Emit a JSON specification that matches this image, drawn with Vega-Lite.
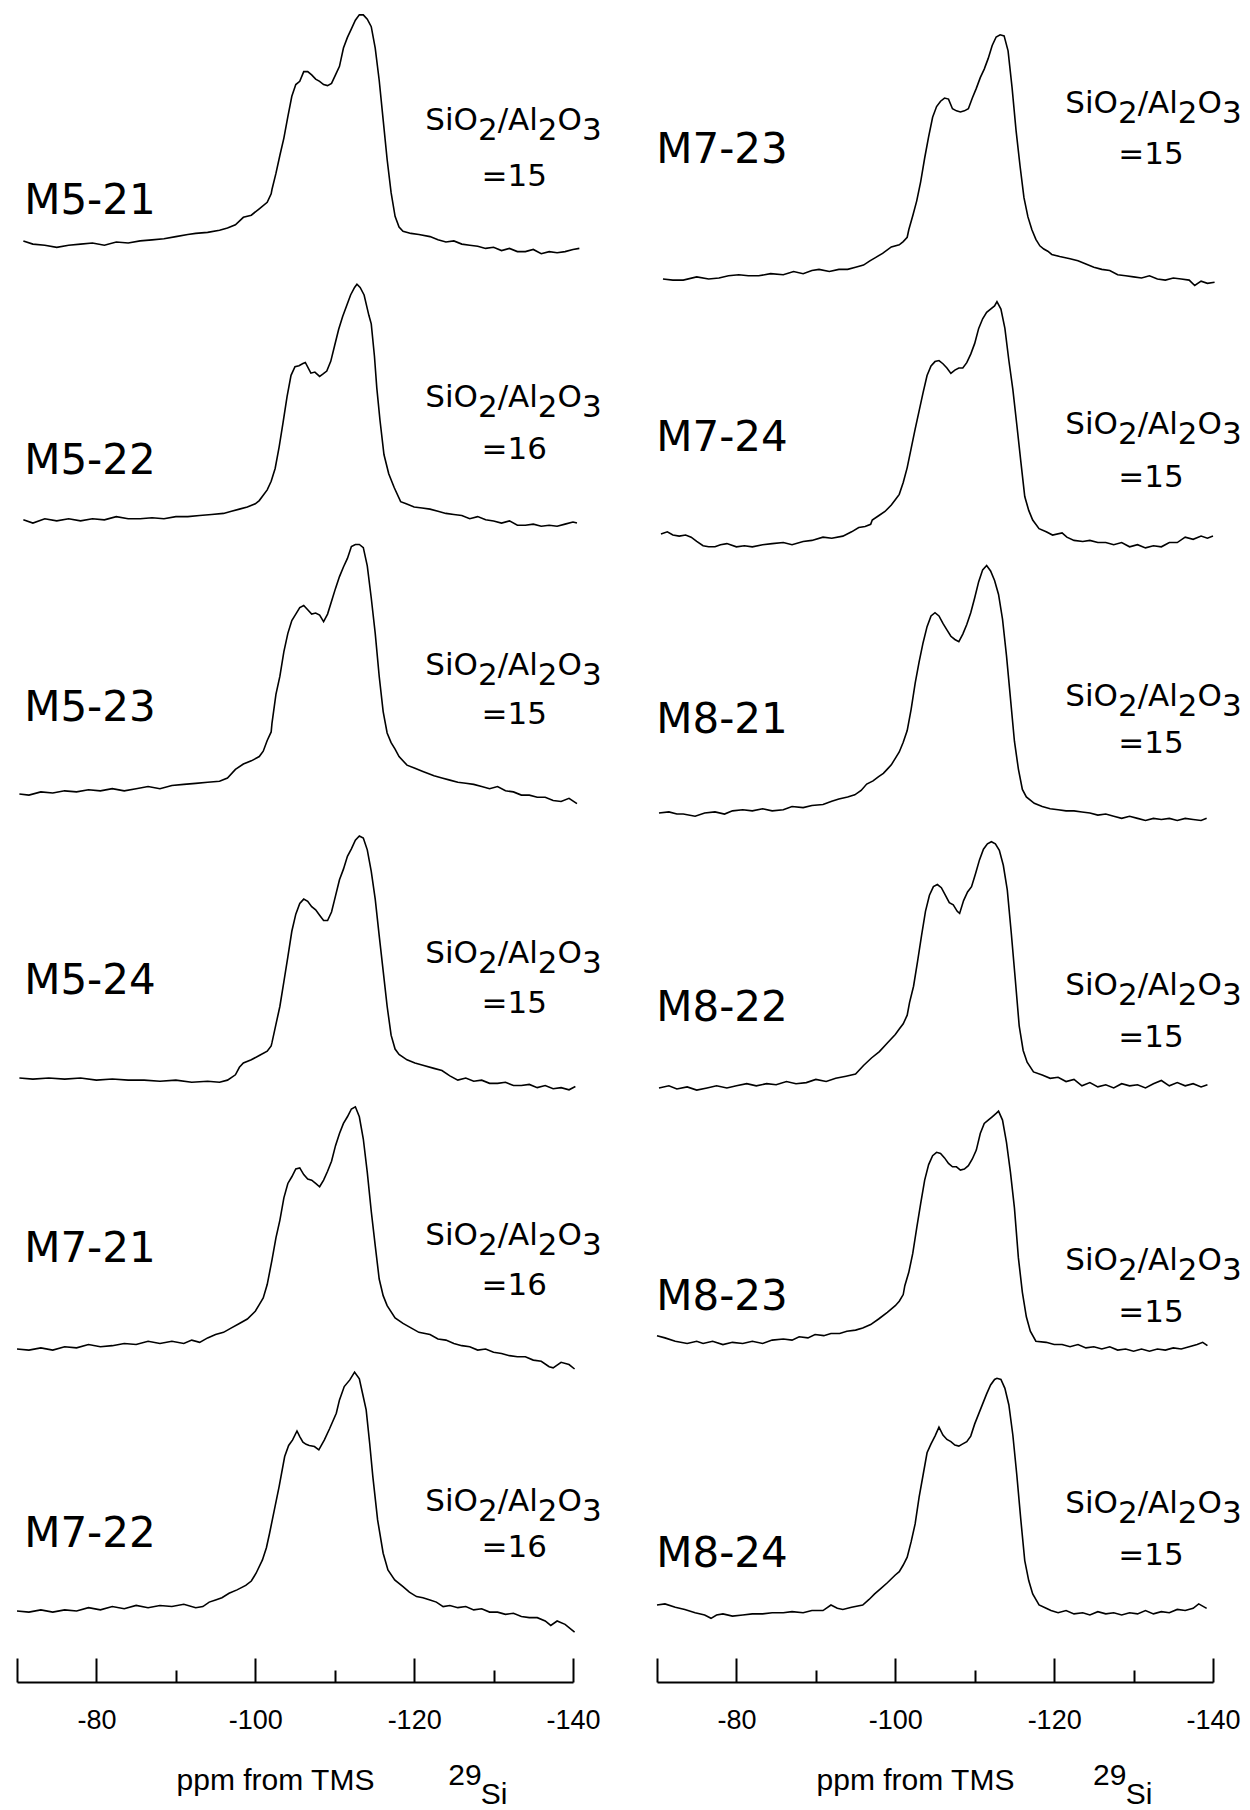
{
"$schema":"https://vega.github.io/schema/vega-lite/v6.json",
"background":"white",
"padding":{"left":13,"top":6,"right":0,"bottom":0},
"bounds":"flush",
"columns":2,
"spacing":{"row":0,"column":84},
"config":{"view":{"stroke":null},"text":{"font":"DejaVu Sans","color":"black"}},
"datasets":{
"lab":[
{"s":"M5-21","r":"=15"},{"s":"M5-22","r":"=16"},{"s":"M5-23","r":"=15"},{"s":"M5-24","r":"=15"},{"s":"M7-21","r":"=16"},{"s":"M7-22","r":"=16"},
{"s":"M7-23","r":"=15"},{"s":"M7-24","r":"=15"},{"s":"M8-21","r":"=15"},{"s":"M8-22","r":"=15"},{"s":"M8-23","r":"=15"},{"s":"M8-24","r":"=15"}],
"iso":[{"a":"29","b":"Si"}],
"spec":[
{"s":"M5-21","p":-70.8,"v":2},{"s":"M5-21","p":-72,"v":-1},{"s":"M5-21","p":-73.5,"v":-2},{"s":"M5-21","p":-75,"v":-4},{"s":"M5-21","p":-76.5,"v":-2},{"s":"M5-21","p":-78,"v":-1},{"s":"M5-21","p":-79.5,"v":0},{"s":"M5-21","p":-81,"v":-2},{"s":"M5-21","p":-82.5,"v":1},{"s":"M5-21","p":-84,"v":0},{"s":"M5-21","p":-85.5,"v":2},{"s":"M5-21","p":-87,"v":3},{"s":"M5-21","p":-88.5,"v":4},{"s":"M5-21","p":-90,"v":6},{"s":"M5-21","p":-91.5,"v":8},{"s":"M5-21","p":-92.5,"v":9},{"s":"M5-21","p":-94,"v":10},{"s":"M5-21","p":-95.5,"v":12},{"s":"M5-21","p":-96.5,"v":14},{"s":"M5-21","p":-97.5,"v":17},{"s":"M5-21","p":-98.5,"v":24},{"s":"M5-21","p":-99.5,"v":26},{"s":"M5-21","p":-100.5,"v":32},{"s":"M5-21","p":-101.5,"v":38},{"s":"M5-21","p":-102,"v":46},{"s":"M5-21","p":-102.1,"v":50},{"s":"M5-21","p":-102.6,"v":65},{"s":"M5-21","p":-103.1,"v":82},{"s":"M5-21","p":-103.6,"v":98},{"s":"M5-21","p":-104.1,"v":118},{"s":"M5-21","p":-104.6,"v":137},{"s":"M5-21","p":-105.1,"v":148},{"s":"M5-21","p":-105.6,"v":151},{"s":"M5-21","p":-106.1,"v":160},{"s":"M5-21","p":-106.6,"v":160},{"s":"M5-21","p":-107.1,"v":157},{"s":"M5-21","p":-107.6,"v":153},{"s":"M5-21","p":-108.1,"v":151},{"s":"M5-21","p":-108.6,"v":148},{"s":"M5-21","p":-109.1,"v":147},{"s":"M5-21","p":-109.6,"v":149},{"s":"M5-21","p":-110.1,"v":157},{"s":"M5-21","p":-110.6,"v":165},{"s":"M5-21","p":-111.1,"v":182},{"s":"M5-21","p":-111.6,"v":192},{"s":"M5-21","p":-112.1,"v":200},{"s":"M5-21","p":-112.6,"v":208},{"s":"M5-21","p":-113.1,"v":213},{"s":"M5-21","p":-113.6,"v":213},{"s":"M5-21","p":-114.1,"v":209},{"s":"M5-21","p":-114.6,"v":202},{"s":"M5-21","p":-115.1,"v":182},{"s":"M5-21","p":-115.6,"v":152},{"s":"M5-21","p":-116.1,"v":115},{"s":"M5-21","p":-116.6,"v":78},{"s":"M5-21","p":-117.1,"v":47},{"s":"M5-21","p":-117.6,"v":25},{"s":"M5-21","p":-118.1,"v":15},{"s":"M5-21","p":-118.6,"v":11},{"s":"M5-21","p":-119.6,"v":9},{"s":"M5-21","p":-120.6,"v":8},{"s":"M5-21","p":-122,"v":6},{"s":"M5-21","p":-123,"v":3},{"s":"M5-21","p":-124,"v":1},{"s":"M5-21","p":-125,"v":2},{"s":"M5-21","p":-126,"v":-1},{"s":"M5-21","p":-127,"v":-2},{"s":"M5-21","p":-128,"v":-3},{"s":"M5-21","p":-129,"v":-5},{"s":"M5-21","p":-130,"v":-4},{"s":"M5-21","p":-131,"v":-7},{"s":"M5-21","p":-132,"v":-5},{"s":"M5-21","p":-133,"v":-8},{"s":"M5-21","p":-134,"v":-8},{"s":"M5-21","p":-135,"v":-6},{"s":"M5-21","p":-136,"v":-10},{"s":"M5-21","p":-137,"v":-8},{"s":"M5-21","p":-138,"v":-9},{"s":"M5-21","p":-139,"v":-8},{"s":"M5-21","p":-140,"v":-6},{"s":"M5-21","p":-140.8,"v":-5},
{"s":"M5-22","p":-70.8,"v":2},{"s":"M5-22","p":-72,"v":-1},{"s":"M5-22","p":-73.5,"v":3},{"s":"M5-22","p":-75,"v":1},{"s":"M5-22","p":-76.5,"v":3},{"s":"M5-22","p":-78,"v":1},{"s":"M5-22","p":-79.5,"v":3},{"s":"M5-22","p":-81,"v":2},{"s":"M5-22","p":-82.5,"v":5},{"s":"M5-22","p":-84,"v":3},{"s":"M5-22","p":-85.5,"v":3},{"s":"M5-22","p":-87,"v":4},{"s":"M5-22","p":-88.5,"v":3},{"s":"M5-22","p":-90,"v":5},{"s":"M5-22","p":-91.5,"v":5},{"s":"M5-22","p":-93,"v":6},{"s":"M5-22","p":-94.5,"v":7},{"s":"M5-22","p":-96,"v":8},{"s":"M5-22","p":-97,"v":10},{"s":"M5-22","p":-98,"v":12},{"s":"M5-22","p":-99,"v":14},{"s":"M5-22","p":-100,"v":17},{"s":"M5-22","p":-100.5,"v":20},{"s":"M5-22","p":-101,"v":25},{"s":"M5-22","p":-101.5,"v":30},{"s":"M5-22","p":-102,"v":38},{"s":"M5-22","p":-102.5,"v":50},{"s":"M5-22","p":-103,"v":70},{"s":"M5-22","p":-103.5,"v":93},{"s":"M5-22","p":-104,"v":117},{"s":"M5-22","p":-104.5,"v":137},{"s":"M5-22","p":-105,"v":145},{"s":"M5-22","p":-105.5,"v":146},{"s":"M5-22","p":-106,"v":148},{"s":"M5-22","p":-106.3,"v":149},{"s":"M5-22","p":-107,"v":139},{"s":"M5-22","p":-107.5,"v":140},{"s":"M5-22","p":-108.1,"v":136},{"s":"M5-22","p":-108.5,"v":138},{"s":"M5-22","p":-109,"v":141},{"s":"M5-22","p":-109.5,"v":150},{"s":"M5-22","p":-110,"v":165},{"s":"M5-22","p":-110.5,"v":180},{"s":"M5-22","p":-111,"v":192},{"s":"M5-22","p":-111.5,"v":202},{"s":"M5-22","p":-112,"v":212},{"s":"M5-22","p":-112.5,"v":219},{"s":"M5-22","p":-112.8,"v":222},{"s":"M5-22","p":-113.2,"v":219},{"s":"M5-22","p":-113.7,"v":212},{"s":"M5-22","p":-114.3,"v":193},{"s":"M5-22","p":-114.6,"v":185},{"s":"M5-22","p":-115,"v":155},{"s":"M5-22","p":-115.3,"v":125},{"s":"M5-22","p":-115.7,"v":95},{"s":"M5-22","p":-116.2,"v":63},{"s":"M5-22","p":-116.8,"v":45},{"s":"M5-22","p":-117.5,"v":32},{"s":"M5-22","p":-118.3,"v":19},{"s":"M5-22","p":-119,"v":17},{"s":"M5-22","p":-120,"v":14},{"s":"M5-22","p":-121,"v":13},{"s":"M5-22","p":-122,"v":12},{"s":"M5-22","p":-123,"v":10},{"s":"M5-22","p":-124,"v":8},{"s":"M5-22","p":-125,"v":7},{"s":"M5-22","p":-126,"v":6},{"s":"M5-22","p":-127,"v":3},{"s":"M5-22","p":-128,"v":5},{"s":"M5-22","p":-129,"v":2},{"s":"M5-22","p":-130,"v":1},{"s":"M5-22","p":-131,"v":-1},{"s":"M5-22","p":-132,"v":1},{"s":"M5-22","p":-133,"v":-3},{"s":"M5-22","p":-134,"v":-3},{"s":"M5-22","p":-135,"v":-2},{"s":"M5-22","p":-136,"v":-4},{"s":"M5-22","p":-137,"v":-3},{"s":"M5-22","p":-138,"v":-4},{"s":"M5-22","p":-139,"v":-2},{"s":"M5-22","p":-140,"v":0},{"s":"M5-22","p":-140.5,"v":-1},
{"s":"M5-23","p":-70.3,"v":0},{"s":"M5-23","p":-71.5,"v":-1},{"s":"M5-23","p":-73,"v":2},{"s":"M5-23","p":-74.5,"v":1},{"s":"M5-23","p":-76,"v":3},{"s":"M5-23","p":-77.5,"v":2},{"s":"M5-23","p":-79,"v":4},{"s":"M5-23","p":-80.5,"v":3},{"s":"M5-23","p":-82,"v":5},{"s":"M5-23","p":-83.5,"v":3},{"s":"M5-23","p":-85,"v":5},{"s":"M5-23","p":-86.5,"v":7},{"s":"M5-23","p":-88,"v":5},{"s":"M5-23","p":-89.5,"v":8},{"s":"M5-23","p":-91,"v":9},{"s":"M5-23","p":-92.5,"v":10},{"s":"M5-23","p":-94,"v":11},{"s":"M5-23","p":-95.5,"v":12},{"s":"M5-23","p":-96.5,"v":15},{"s":"M5-23","p":-97.5,"v":23},{"s":"M5-23","p":-98.5,"v":28},{"s":"M5-23","p":-99.5,"v":31},{"s":"M5-23","p":-100.5,"v":35},{"s":"M5-23","p":-101,"v":40},{"s":"M5-23","p":-101.5,"v":50},{"s":"M5-23","p":-102,"v":58},{"s":"M5-23","p":-102.1,"v":66},{"s":"M5-23","p":-102.6,"v":93},{"s":"M5-23","p":-103.1,"v":110},{"s":"M5-23","p":-103.6,"v":133},{"s":"M5-23","p":-104.1,"v":150},{"s":"M5-23","p":-104.6,"v":162},{"s":"M5-23","p":-105.1,"v":168},{"s":"M5-23","p":-105.6,"v":174},{"s":"M5-23","p":-106.1,"v":176},{"s":"M5-23","p":-106.6,"v":172},{"s":"M5-23","p":-107.1,"v":168},{"s":"M5-23","p":-107.6,"v":169},{"s":"M5-23","p":-108.1,"v":167},{"s":"M5-23","p":-108.6,"v":161},{"s":"M5-23","p":-109.1,"v":168},{"s":"M5-23","p":-109.6,"v":180},{"s":"M5-23","p":-110.1,"v":192},{"s":"M5-23","p":-110.6,"v":203},{"s":"M5-23","p":-111.1,"v":212},{"s":"M5-23","p":-111.6,"v":220},{"s":"M5-23","p":-112.1,"v":231},{"s":"M5-23","p":-112.6,"v":233},{"s":"M5-23","p":-113.1,"v":233},{"s":"M5-23","p":-113.6,"v":230},{"s":"M5-23","p":-114.1,"v":213},{"s":"M5-23","p":-114.6,"v":183},{"s":"M5-23","p":-115.1,"v":150},{"s":"M5-23","p":-115.6,"v":110},{"s":"M5-23","p":-116.1,"v":77},{"s":"M5-23","p":-116.6,"v":57},{"s":"M5-23","p":-117.1,"v":48},{"s":"M5-23","p":-117.6,"v":42},{"s":"M5-23","p":-118.1,"v":35},{"s":"M5-23","p":-119.1,"v":27},{"s":"M5-23","p":-120.1,"v":24},{"s":"M5-23","p":-121.1,"v":21},{"s":"M5-23","p":-122.5,"v":17},{"s":"M5-23","p":-123.5,"v":15},{"s":"M5-23","p":-124.5,"v":13},{"s":"M5-23","p":-125.5,"v":11},{"s":"M5-23","p":-126.5,"v":10},{"s":"M5-23","p":-127.5,"v":9},{"s":"M5-23","p":-128.5,"v":7},{"s":"M5-23","p":-129.5,"v":5},{"s":"M5-23","p":-130.5,"v":7},{"s":"M5-23","p":-131.5,"v":3},{"s":"M5-23","p":-132.5,"v":2},{"s":"M5-23","p":-133.5,"v":-1},{"s":"M5-23","p":-134.5,"v":-1},{"s":"M5-23","p":-135.5,"v":-3},{"s":"M5-23","p":-136.5,"v":-3},{"s":"M5-23","p":-137.5,"v":-6},{"s":"M5-23","p":-138.5,"v":-7},{"s":"M5-23","p":-139.5,"v":-4},{"s":"M5-23","p":-140.5,"v":-9},
{"s":"M5-24","p":-70.3,"v":0},{"s":"M5-24","p":-72,"v":-1},{"s":"M5-24","p":-74,"v":0},{"s":"M5-24","p":-76,"v":-1},{"s":"M5-24","p":-78,"v":0},{"s":"M5-24","p":-80,"v":-2},{"s":"M5-24","p":-82,"v":-1},{"s":"M5-24","p":-84,"v":-2},{"s":"M5-24","p":-86,"v":-2},{"s":"M5-24","p":-88,"v":-3},{"s":"M5-24","p":-90,"v":-2},{"s":"M5-24","p":-92,"v":-4},{"s":"M5-24","p":-94,"v":-3},{"s":"M5-24","p":-95.5,"v":-4},{"s":"M5-24","p":-96.5,"v":-2},{"s":"M5-24","p":-97.5,"v":3},{"s":"M5-24","p":-98,"v":10},{"s":"M5-24","p":-98.5,"v":14},{"s":"M5-24","p":-99.5,"v":17},{"s":"M5-24","p":-100.5,"v":21},{"s":"M5-24","p":-101.5,"v":25},{"s":"M5-24","p":-102,"v":30},{"s":"M5-24","p":-102.1,"v":33},{"s":"M5-24","p":-102.6,"v":50},{"s":"M5-24","p":-103.1,"v":67},{"s":"M5-24","p":-103.6,"v":90},{"s":"M5-24","p":-104.1,"v":113},{"s":"M5-24","p":-104.6,"v":137},{"s":"M5-24","p":-105.1,"v":153},{"s":"M5-24","p":-105.6,"v":163},{"s":"M5-24","p":-106.1,"v":167},{"s":"M5-24","p":-106.6,"v":165},{"s":"M5-24","p":-107.1,"v":160},{"s":"M5-24","p":-107.6,"v":157},{"s":"M5-24","p":-108.1,"v":152},{"s":"M5-24","p":-108.6,"v":147},{"s":"M5-24","p":-109.1,"v":147},{"s":"M5-24","p":-109.6,"v":155},{"s":"M5-24","p":-110.1,"v":170},{"s":"M5-24","p":-110.6,"v":185},{"s":"M5-24","p":-111.1,"v":195},{"s":"M5-24","p":-111.6,"v":207},{"s":"M5-24","p":-112.1,"v":214},{"s":"M5-24","p":-112.6,"v":222},{"s":"M5-24","p":-113.1,"v":226},{"s":"M5-24","p":-113.6,"v":224},{"s":"M5-24","p":-114.1,"v":213},{"s":"M5-24","p":-114.6,"v":193},{"s":"M5-24","p":-115.1,"v":167},{"s":"M5-24","p":-115.6,"v":133},{"s":"M5-24","p":-116.1,"v":100},{"s":"M5-24","p":-116.6,"v":67},{"s":"M5-24","p":-117.1,"v":40},{"s":"M5-24","p":-117.6,"v":27},{"s":"M5-24","p":-118.1,"v":22},{"s":"M5-24","p":-119.1,"v":17},{"s":"M5-24","p":-120.1,"v":14},{"s":"M5-24","p":-121.1,"v":12},{"s":"M5-24","p":-122.5,"v":9},{"s":"M5-24","p":-123.5,"v":7},{"s":"M5-24","p":-124.5,"v":2},{"s":"M5-24","p":-125.5,"v":-2},{"s":"M5-24","p":-126.5,"v":0},{"s":"M5-24","p":-127.5,"v":-3},{"s":"M5-24","p":-128.5,"v":-2},{"s":"M5-24","p":-129.5,"v":-5},{"s":"M5-24","p":-130.5,"v":-5},{"s":"M5-24","p":-131.5,"v":-4},{"s":"M5-24","p":-132.5,"v":-7},{"s":"M5-24","p":-133.5,"v":-7},{"s":"M5-24","p":-134.5,"v":-6},{"s":"M5-24","p":-135.5,"v":-9},{"s":"M5-24","p":-136.5,"v":-7},{"s":"M5-24","p":-137.5,"v":-10},{"s":"M5-24","p":-138.5,"v":-9},{"s":"M5-24","p":-139.5,"v":-11},{"s":"M5-24","p":-140.3,"v":-8},
{"s":"M7-21","p":-70,"v":0},{"s":"M7-21","p":-71.5,"v":-1},{"s":"M7-21","p":-73,"v":1},{"s":"M7-21","p":-74.5,"v":-1},{"s":"M7-21","p":-76,"v":2},{"s":"M7-21","p":-77.5,"v":1},{"s":"M7-21","p":-79,"v":4},{"s":"M7-21","p":-80.5,"v":2},{"s":"M7-21","p":-82,"v":3},{"s":"M7-21","p":-83.5,"v":5},{"s":"M7-21","p":-85,"v":4},{"s":"M7-21","p":-86.5,"v":7},{"s":"M7-21","p":-88,"v":5},{"s":"M7-21","p":-89.5,"v":7},{"s":"M7-21","p":-91,"v":5},{"s":"M7-21","p":-92,"v":8},{"s":"M7-21","p":-93,"v":6},{"s":"M7-21","p":-94,"v":10},{"s":"M7-21","p":-95,"v":13},{"s":"M7-21","p":-96,"v":15},{"s":"M7-21","p":-97,"v":19},{"s":"M7-21","p":-98,"v":23},{"s":"M7-21","p":-99,"v":27},{"s":"M7-21","p":-100,"v":34},{"s":"M7-21","p":-100.5,"v":40},{"s":"M7-21","p":-101,"v":46},{"s":"M7-21","p":-101.5,"v":58},{"s":"M7-21","p":-102.1,"v":80},{"s":"M7-21","p":-102.6,"v":100},{"s":"M7-21","p":-103.1,"v":116},{"s":"M7-21","p":-103.6,"v":136},{"s":"M7-21","p":-104.1,"v":149},{"s":"M7-21","p":-104.6,"v":155},{"s":"M7-21","p":-105.1,"v":162},{"s":"M7-21","p":-105.6,"v":163},{"s":"M7-21","p":-106.1,"v":157},{"s":"M7-21","p":-106.6,"v":153},{"s":"M7-21","p":-107.1,"v":152},{"s":"M7-21","p":-107.6,"v":149},{"s":"M7-21","p":-108.1,"v":146},{"s":"M7-21","p":-108.6,"v":152},{"s":"M7-21","p":-109.1,"v":160},{"s":"M7-21","p":-109.6,"v":169},{"s":"M7-21","p":-110.1,"v":183},{"s":"M7-21","p":-110.6,"v":194},{"s":"M7-21","p":-111.1,"v":203},{"s":"M7-21","p":-111.6,"v":209},{"s":"M7-21","p":-112.1,"v":216},{"s":"M7-21","p":-112.6,"v":218},{"s":"M7-21","p":-113.1,"v":209},{"s":"M7-21","p":-113.6,"v":189},{"s":"M7-21","p":-114.1,"v":159},{"s":"M7-21","p":-114.6,"v":124},{"s":"M7-21","p":-115.1,"v":93},{"s":"M7-21","p":-115.6,"v":63},{"s":"M7-21","p":-116.1,"v":48},{"s":"M7-21","p":-116.6,"v":39},{"s":"M7-21","p":-117.6,"v":28},{"s":"M7-21","p":-118.6,"v":23},{"s":"M7-21","p":-119.6,"v":19},{"s":"M7-21","p":-120.6,"v":15},{"s":"M7-21","p":-122,"v":13},{"s":"M7-21","p":-123,"v":9},{"s":"M7-21","p":-124,"v":8},{"s":"M7-21","p":-125,"v":5},{"s":"M7-21","p":-126,"v":3},{"s":"M7-21","p":-127,"v":2},{"s":"M7-21","p":-128,"v":-1},{"s":"M7-21","p":-129,"v":0},{"s":"M7-21","p":-130,"v":-3},{"s":"M7-21","p":-131,"v":-4},{"s":"M7-21","p":-132,"v":-6},{"s":"M7-21","p":-133,"v":-7},{"s":"M7-21","p":-134,"v":-7},{"s":"M7-21","p":-135,"v":-10},{"s":"M7-21","p":-136,"v":-11},{"s":"M7-21","p":-137,"v":-16},{"s":"M7-21","p":-137.5,"v":-17},{"s":"M7-21","p":-138.5,"v":-12},{"s":"M7-21","p":-139.5,"v":-14},{"s":"M7-21","p":-140.2,"v":-18},
{"s":"M7-22","p":-70,"v":0},{"s":"M7-22","p":-71.5,"v":-1},{"s":"M7-22","p":-73,"v":1},{"s":"M7-22","p":-74.5,"v":-1},{"s":"M7-22","p":-76,"v":1},{"s":"M7-22","p":-77.5,"v":0},{"s":"M7-22","p":-79,"v":3},{"s":"M7-22","p":-80.5,"v":1},{"s":"M7-22","p":-82,"v":4},{"s":"M7-22","p":-83.5,"v":2},{"s":"M7-22","p":-85,"v":5},{"s":"M7-22","p":-86.5,"v":3},{"s":"M7-22","p":-88,"v":5},{"s":"M7-22","p":-89.5,"v":4},{"s":"M7-22","p":-91,"v":6},{"s":"M7-22","p":-92.5,"v":3},{"s":"M7-22","p":-93.4,"v":4},{"s":"M7-22","p":-94.2,"v":8},{"s":"M7-22","p":-95,"v":10},{"s":"M7-22","p":-95.8,"v":12},{"s":"M7-22","p":-96.7,"v":16},{"s":"M7-22","p":-97.7,"v":19},{"s":"M7-22","p":-98.8,"v":23},{"s":"M7-22","p":-99.5,"v":27},{"s":"M7-22","p":-100.1,"v":34},{"s":"M7-22","p":-100.9,"v":46},{"s":"M7-22","p":-101.4,"v":57},{"s":"M7-22","p":-101.8,"v":70},{"s":"M7-22","p":-102.4,"v":91},{"s":"M7-22","p":-103,"v":112},{"s":"M7-22","p":-103.7,"v":139},{"s":"M7-22","p":-104.2,"v":149},{"s":"M7-22","p":-104.7,"v":154},{"s":"M7-22","p":-105.25,"v":162},{"s":"M7-22","p":-105.6,"v":157},{"s":"M7-22","p":-106,"v":152},{"s":"M7-22","p":-106.4,"v":150},{"s":"M7-22","p":-106.8,"v":149},{"s":"M7-22","p":-107.45,"v":148},{"s":"M7-22","p":-108,"v":145},{"s":"M7-22","p":-108.7,"v":154},{"s":"M7-22","p":-109.35,"v":164},{"s":"M7-22","p":-110.2,"v":178},{"s":"M7-22","p":-110.6,"v":190},{"s":"M7-22","p":-111.2,"v":202},{"s":"M7-22","p":-111.9,"v":208},{"s":"M7-22","p":-112.5,"v":215},{"s":"M7-22","p":-113.1,"v":209},{"s":"M7-22","p":-113.5,"v":196},{"s":"M7-22","p":-113.96,"v":181},{"s":"M7-22","p":-114.4,"v":151},{"s":"M7-22","p":-114.8,"v":121},{"s":"M7-22","p":-115.4,"v":82},{"s":"M7-22","p":-116.1,"v":52},{"s":"M7-22","p":-116.7,"v":37},{"s":"M7-22","p":-117.55,"v":28},{"s":"M7-22","p":-118.6,"v":22},{"s":"M7-22","p":-119.4,"v":17},{"s":"M7-22","p":-120.3,"v":13},{"s":"M7-22","p":-121.1,"v":12},{"s":"M7-22","p":-122,"v":10},{"s":"M7-22","p":-122.8,"v":8},{"s":"M7-22","p":-123.65,"v":4},{"s":"M7-22","p":-124.5,"v":5},{"s":"M7-22","p":-125.5,"v":3},{"s":"M7-22","p":-126.5,"v":4},{"s":"M7-22","p":-127.5,"v":1},{"s":"M7-22","p":-128.5,"v":2},{"s":"M7-22","p":-129.5,"v":-1},{"s":"M7-22","p":-130.5,"v":-1},{"s":"M7-22","p":-131.5,"v":-3},{"s":"M7-22","p":-132.5,"v":-2},{"s":"M7-22","p":-133.5,"v":-5},{"s":"M7-22","p":-134.5,"v":-6},{"s":"M7-22","p":-135.5,"v":-6},{"s":"M7-22","p":-136.5,"v":-9},{"s":"M7-22","p":-137.2,"v":-13},{"s":"M7-22","p":-138,"v":-9},{"s":"M7-22","p":-139,"v":-12},{"s":"M7-22","p":-140.2,"v":-19},
{"s":"M7-23","p":-70.75,"v":0},{"s":"M7-23","p":-72,"v":-1},{"s":"M7-23","p":-73.3,"v":-1},{"s":"M7-23","p":-75,"v":2},{"s":"M7-23","p":-76.5,"v":0},{"s":"M7-23","p":-77.8,"v":1},{"s":"M7-23","p":-79,"v":3},{"s":"M7-23","p":-80.3,"v":4},{"s":"M7-23","p":-81.5,"v":3},{"s":"M7-23","p":-82.8,"v":3},{"s":"M7-23","p":-84.3,"v":5},{"s":"M7-23","p":-85.9,"v":4},{"s":"M7-23","p":-87.2,"v":7},{"s":"M7-23","p":-88.4,"v":5},{"s":"M7-23","p":-89.5,"v":8},{"s":"M7-23","p":-90.4,"v":9},{"s":"M7-23","p":-91.7,"v":7},{"s":"M7-23","p":-92.9,"v":9},{"s":"M7-23","p":-94,"v":9},{"s":"M7-23","p":-95,"v":11},{"s":"M7-23","p":-96,"v":13},{"s":"M7-23","p":-96.8,"v":17},{"s":"M7-23","p":-97.5,"v":20},{"s":"M7-23","p":-98.4,"v":24},{"s":"M7-23","p":-99.5,"v":30},{"s":"M7-23","p":-100.5,"v":32},{"s":"M7-23","p":-101,"v":35},{"s":"M7-23","p":-101.5,"v":39},{"s":"M7-23","p":-101.7,"v":46},{"s":"M7-23","p":-102.2,"v":59},{"s":"M7-23","p":-102.7,"v":73},{"s":"M7-23","p":-103.2,"v":91},{"s":"M7-23","p":-103.7,"v":113},{"s":"M7-23","p":-104.2,"v":133},{"s":"M7-23","p":-104.7,"v":151},{"s":"M7-23","p":-105.2,"v":161},{"s":"M7-23","p":-105.7,"v":166},{"s":"M7-23","p":-106.2,"v":169},{"s":"M7-23","p":-106.7,"v":168},{"s":"M7-23","p":-107.2,"v":159},{"s":"M7-23","p":-107.7,"v":157},{"s":"M7-23","p":-108.2,"v":156},{"s":"M7-23","p":-108.7,"v":157},{"s":"M7-23","p":-109.2,"v":159},{"s":"M7-23","p":-109.7,"v":169},{"s":"M7-23","p":-110.2,"v":178},{"s":"M7-23","p":-110.7,"v":188},{"s":"M7-23","p":-111.2,"v":196},{"s":"M7-23","p":-111.7,"v":206},{"s":"M7-23","p":-112.2,"v":218},{"s":"M7-23","p":-112.7,"v":226},{"s":"M7-23","p":-113.2,"v":228},{"s":"M7-23","p":-113.7,"v":227},{"s":"M7-23","p":-114.2,"v":213},{"s":"M7-23","p":-114.7,"v":179},{"s":"M7-23","p":-115.2,"v":139},{"s":"M7-23","p":-115.7,"v":106},{"s":"M7-23","p":-116.2,"v":76},{"s":"M7-23","p":-116.7,"v":58},{"s":"M7-23","p":-117.2,"v":46},{"s":"M7-23","p":-117.7,"v":37},{"s":"M7-23","p":-118.2,"v":31},{"s":"M7-23","p":-118.7,"v":28},{"s":"M7-23","p":-119.2,"v":26},{"s":"M7-23","p":-119.7,"v":23},{"s":"M7-23","p":-120.7,"v":21},{"s":"M7-23","p":-122,"v":19},{"s":"M7-23","p":-123,"v":17},{"s":"M7-23","p":-124,"v":14},{"s":"M7-23","p":-125,"v":11},{"s":"M7-23","p":-126,"v":9},{"s":"M7-23","p":-127,"v":8},{"s":"M7-23","p":-128,"v":4},{"s":"M7-23","p":-129,"v":3},{"s":"M7-23","p":-130,"v":2},{"s":"M7-23","p":-131,"v":1},{"s":"M7-23","p":-132,"v":3},{"s":"M7-23","p":-133,"v":0},{"s":"M7-23","p":-134,"v":-1},{"s":"M7-23","p":-135,"v":1},{"s":"M7-23","p":-136,"v":0},{"s":"M7-23","p":-137,"v":-1},{"s":"M7-23","p":-137.7,"v":-6},{"s":"M7-23","p":-138.5,"v":-2},{"s":"M7-23","p":-139.3,"v":-4},{"s":"M7-23","p":-140.2,"v":-3},
{"s":"M7-24","p":-70.5,"v":0},{"s":"M7-24","p":-71.3,"v":2},{"s":"M7-24","p":-72,"v":-1},{"s":"M7-24","p":-72.8,"v":-2},{"s":"M7-24","p":-73.6,"v":-1},{"s":"M7-24","p":-74.3,"v":-3},{"s":"M7-24","p":-75,"v":-7},{"s":"M7-24","p":-75.8,"v":-11},{"s":"M7-24","p":-76.5,"v":-12},{"s":"M7-24","p":-77.3,"v":-12},{"s":"M7-24","p":-78,"v":-10},{"s":"M7-24","p":-78.8,"v":-9},{"s":"M7-24","p":-80,"v":-12},{"s":"M7-24","p":-81,"v":-11},{"s":"M7-24","p":-82,"v":-12},{"s":"M7-24","p":-83.3,"v":-10},{"s":"M7-24","p":-84.5,"v":-9},{"s":"M7-24","p":-85.9,"v":-8},{"s":"M7-24","p":-87,"v":-10},{"s":"M7-24","p":-88.4,"v":-7},{"s":"M7-24","p":-89.5,"v":-6},{"s":"M7-24","p":-90.9,"v":-3},{"s":"M7-24","p":-92,"v":-4},{"s":"M7-24","p":-93.4,"v":-2},{"s":"M7-24","p":-94.5,"v":2},{"s":"M7-24","p":-95.4,"v":6},{"s":"M7-24","p":-96.2,"v":7},{"s":"M7-24","p":-96.9,"v":9},{"s":"M7-24","p":-97.1,"v":13},{"s":"M7-24","p":-97.9,"v":17},{"s":"M7-24","p":-98.7,"v":21},{"s":"M7-24","p":-99.5,"v":27},{"s":"M7-24","p":-100,"v":32},{"s":"M7-24","p":-100.5,"v":37},{"s":"M7-24","p":-101,"v":48},{"s":"M7-24","p":-101.5,"v":62},{"s":"M7-24","p":-102,"v":80},{"s":"M7-24","p":-102.5,"v":98},{"s":"M7-24","p":-103,"v":115},{"s":"M7-24","p":-103.5,"v":132},{"s":"M7-24","p":-104,"v":148},{"s":"M7-24","p":-104.5,"v":157},{"s":"M7-24","p":-105,"v":161},{"s":"M7-24","p":-105.5,"v":162},{"s":"M7-24","p":-106,"v":159},{"s":"M7-24","p":-106.5,"v":155},{"s":"M7-24","p":-107,"v":150},{"s":"M7-24","p":-107.5,"v":153},{"s":"M7-24","p":-108,"v":155},{"s":"M7-24","p":-108.5,"v":155},{"s":"M7-24","p":-109,"v":160},{"s":"M7-24","p":-109.5,"v":168},{"s":"M7-24","p":-110,"v":178},{"s":"M7-24","p":-110.5,"v":192},{"s":"M7-24","p":-111,"v":201},{"s":"M7-24","p":-111.5,"v":207},{"s":"M7-24","p":-112,"v":210},{"s":"M7-24","p":-112.5,"v":213},{"s":"M7-24","p":-112.8,"v":217},{"s":"M7-24","p":-113.3,"v":210},{"s":"M7-24","p":-113.8,"v":192},{"s":"M7-24","p":-114.3,"v":162},{"s":"M7-24","p":-114.8,"v":135},{"s":"M7-24","p":-115.3,"v":102},{"s":"M7-24","p":-115.8,"v":68},{"s":"M7-24","p":-116.3,"v":35},{"s":"M7-24","p":-116.8,"v":22},{"s":"M7-24","p":-117.3,"v":13},{"s":"M7-24","p":-118.1,"v":5},{"s":"M7-24","p":-119,"v":2},{"s":"M7-24","p":-119.8,"v":-1},{"s":"M7-24","p":-121,"v":1},{"s":"M7-24","p":-121.6,"v":-3},{"s":"M7-24","p":-122.5,"v":-6},{"s":"M7-24","p":-123.6,"v":-7},{"s":"M7-24","p":-124.5,"v":-6},{"s":"M7-24","p":-125.5,"v":-8},{"s":"M7-24","p":-126.5,"v":-8},{"s":"M7-24","p":-127.5,"v":-10},{"s":"M7-24","p":-128.5,"v":-8},{"s":"M7-24","p":-129.5,"v":-12},{"s":"M7-24","p":-130.5,"v":-10},{"s":"M7-24","p":-131.5,"v":-13},{"s":"M7-24","p":-132.5,"v":-11},{"s":"M7-24","p":-133.5,"v":-12},{"s":"M7-24","p":-134.5,"v":-8},{"s":"M7-24","p":-135.5,"v":-8},{"s":"M7-24","p":-136.5,"v":-3},{"s":"M7-24","p":-137.5,"v":-5},{"s":"M7-24","p":-138.5,"v":-2},{"s":"M7-24","p":-139.3,"v":-4},{"s":"M7-24","p":-140,"v":-2},
{"s":"M8-21","p":-70.25,"v":0},{"s":"M8-21","p":-71.5,"v":1},{"s":"M8-21","p":-72.5,"v":-1},{"s":"M8-21","p":-73.3,"v":-1},{"s":"M8-21","p":-74.8,"v":-3},{"s":"M8-21","p":-76,"v":0},{"s":"M8-21","p":-77.3,"v":1},{"s":"M8-21","p":-78.5,"v":-1},{"s":"M8-21","p":-79.5,"v":2},{"s":"M8-21","p":-80.8,"v":3},{"s":"M8-21","p":-82,"v":2},{"s":"M8-21","p":-83.3,"v":4},{"s":"M8-21","p":-84.5,"v":2},{"s":"M8-21","p":-85.9,"v":3},{"s":"M8-21","p":-87,"v":6},{"s":"M8-21","p":-88.4,"v":5},{"s":"M8-21","p":-89.5,"v":7},{"s":"M8-21","p":-90.9,"v":8},{"s":"M8-21","p":-92,"v":11},{"s":"M8-21","p":-92.9,"v":13},{"s":"M8-21","p":-94,"v":15},{"s":"M8-21","p":-94.9,"v":17},{"s":"M8-21","p":-95.7,"v":21},{"s":"M8-21","p":-96.4,"v":27},{"s":"M8-21","p":-97.2,"v":30},{"s":"M8-21","p":-97.9,"v":34},{"s":"M8-21","p":-98.5,"v":37},{"s":"M8-21","p":-99,"v":41},{"s":"M8-21","p":-99.5,"v":45},{"s":"M8-21","p":-100,"v":51},{"s":"M8-21","p":-100.5,"v":57},{"s":"M8-21","p":-101,"v":66},{"s":"M8-21","p":-101.5,"v":77},{"s":"M8-21","p":-102,"v":97},{"s":"M8-21","p":-102.5,"v":121},{"s":"M8-21","p":-103,"v":141},{"s":"M8-21","p":-103.5,"v":159},{"s":"M8-21","p":-104,"v":174},{"s":"M8-21","p":-104.5,"v":184},{"s":"M8-21","p":-105,"v":187},{"s":"M8-21","p":-105.5,"v":184},{"s":"M8-21","p":-106,"v":177},{"s":"M8-21","p":-106.5,"v":171},{"s":"M8-21","p":-107,"v":165},{"s":"M8-21","p":-107.5,"v":162},{"s":"M8-21","p":-108,"v":160},{"s":"M8-21","p":-108.5,"v":167},{"s":"M8-21","p":-109,"v":176},{"s":"M8-21","p":-109.5,"v":187},{"s":"M8-21","p":-110,"v":201},{"s":"M8-21","p":-110.5,"v":216},{"s":"M8-21","p":-111,"v":227},{"s":"M8-21","p":-111.5,"v":231},{"s":"M8-21","p":-112,"v":226},{"s":"M8-21","p":-112.5,"v":217},{"s":"M8-21","p":-113,"v":204},{"s":"M8-21","p":-113.5,"v":181},{"s":"M8-21","p":-114,"v":147},{"s":"M8-21","p":-114.5,"v":107},{"s":"M8-21","p":-115,"v":67},{"s":"M8-21","p":-115.5,"v":41},{"s":"M8-21","p":-116,"v":22},{"s":"M8-21","p":-116.5,"v":15},{"s":"M8-21","p":-117.5,"v":9},{"s":"M8-21","p":-118.5,"v":6},{"s":"M8-21","p":-119.5,"v":4},{"s":"M8-21","p":-120.5,"v":3},{"s":"M8-21","p":-121.5,"v":2},{"s":"M8-21","p":-122.5,"v":2},{"s":"M8-21","p":-123.5,"v":1},{"s":"M8-21","p":-124.5,"v":0},{"s":"M8-21","p":-125.5,"v":-2},{"s":"M8-21","p":-126.5,"v":-1},{"s":"M8-21","p":-127.5,"v":-3},{"s":"M8-21","p":-128.5,"v":-5},{"s":"M8-21","p":-129.5,"v":-3},{"s":"M8-21","p":-130.5,"v":-5},{"s":"M8-21","p":-131.5,"v":-7},{"s":"M8-21","p":-132.5,"v":-5},{"s":"M8-21","p":-133.5,"v":-6},{"s":"M8-21","p":-134.5,"v":-5},{"s":"M8-21","p":-135.5,"v":-7},{"s":"M8-21","p":-136.5,"v":-5},{"s":"M8-21","p":-137.5,"v":-6},{"s":"M8-21","p":-138.5,"v":-7},{"s":"M8-21","p":-139.2,"v":-5},
{"s":"M8-22","p":-70.25,"v":0},{"s":"M8-22","p":-71.5,"v":2},{"s":"M8-22","p":-72.5,"v":-1},{"s":"M8-22","p":-73.8,"v":1},{"s":"M8-22","p":-75,"v":-2},{"s":"M8-22","p":-76.3,"v":0},{"s":"M8-22","p":-77.5,"v":2},{"s":"M8-22","p":-78.8,"v":0},{"s":"M8-22","p":-80,"v":2},{"s":"M8-22","p":-81.3,"v":4},{"s":"M8-22","p":-82.5,"v":2},{"s":"M8-22","p":-83.8,"v":4},{"s":"M8-22","p":-85,"v":3},{"s":"M8-22","p":-86.3,"v":6},{"s":"M8-22","p":-87.5,"v":4},{"s":"M8-22","p":-88.8,"v":5},{"s":"M8-22","p":-90,"v":8},{"s":"M8-22","p":-91.3,"v":6},{"s":"M8-22","p":-92.5,"v":9},{"s":"M8-22","p":-93.8,"v":11},{"s":"M8-22","p":-95,"v":13},{"s":"M8-22","p":-96,"v":21},{"s":"M8-22","p":-97,"v":28},{"s":"M8-22","p":-98,"v":34},{"s":"M8-22","p":-99,"v":42},{"s":"M8-22","p":-100,"v":50},{"s":"M8-22","p":-100.5,"v":55},{"s":"M8-22","p":-101,"v":60},{"s":"M8-22","p":-101.5,"v":68},{"s":"M8-22","p":-101.8,"v":80},{"s":"M8-22","p":-102.3,"v":95},{"s":"M8-22","p":-102.8,"v":118},{"s":"M8-22","p":-103.3,"v":142},{"s":"M8-22","p":-103.8,"v":165},{"s":"M8-22","p":-104.3,"v":180},{"s":"M8-22","p":-104.8,"v":188},{"s":"M8-22","p":-105.3,"v":190},{"s":"M8-22","p":-105.8,"v":187},{"s":"M8-22","p":-106.3,"v":180},{"s":"M8-22","p":-106.8,"v":173},{"s":"M8-22","p":-107.3,"v":171},{"s":"M8-22","p":-107.8,"v":165},{"s":"M8-22","p":-108.1,"v":163},{"s":"M8-22","p":-108.6,"v":175},{"s":"M8-22","p":-109.1,"v":183},{"s":"M8-22","p":-109.6,"v":188},{"s":"M8-22","p":-110.1,"v":200},{"s":"M8-22","p":-110.6,"v":213},{"s":"M8-22","p":-111.1,"v":223},{"s":"M8-22","p":-111.6,"v":228},{"s":"M8-22","p":-112.1,"v":230},{"s":"M8-22","p":-112.6,"v":228},{"s":"M8-22","p":-113.1,"v":222},{"s":"M8-22","p":-113.6,"v":208},{"s":"M8-22","p":-114.1,"v":185},{"s":"M8-22","p":-114.6,"v":145},{"s":"M8-22","p":-115.1,"v":102},{"s":"M8-22","p":-115.6,"v":58},{"s":"M8-22","p":-116.1,"v":35},{"s":"M8-22","p":-116.6,"v":24},{"s":"M8-22","p":-117.4,"v":15},{"s":"M8-22","p":-118.5,"v":12},{"s":"M8-22","p":-119.5,"v":9},{"s":"M8-22","p":-120.5,"v":10},{"s":"M8-22","p":-121.5,"v":6},{"s":"M8-22","p":-122.5,"v":8},{"s":"M8-22","p":-123.5,"v":2},{"s":"M8-22","p":-124.5,"v":5},{"s":"M8-22","p":-125.5,"v":1},{"s":"M8-22","p":-126.5,"v":3},{"s":"M8-22","p":-127.5,"v":0},{"s":"M8-22","p":-128.5,"v":4},{"s":"M8-22","p":-129.5,"v":2},{"s":"M8-22","p":-130.5,"v":3},{"s":"M8-22","p":-131.5,"v":0},{"s":"M8-22","p":-132.5,"v":4},{"s":"M8-22","p":-133.5,"v":7},{"s":"M8-22","p":-134.5,"v":2},{"s":"M8-22","p":-135.5,"v":5},{"s":"M8-22","p":-136.5,"v":2},{"s":"M8-22","p":-137.5,"v":4},{"s":"M8-22","p":-138.5,"v":1},{"s":"M8-22","p":-139.3,"v":3},
{"s":"M8-23","p":-70,"v":3},{"s":"M8-23","p":-71,"v":1},{"s":"M8-23","p":-72.3,"v":-2},{"s":"M8-23","p":-73.8,"v":-4},{"s":"M8-23","p":-75,"v":-2},{"s":"M8-23","p":-75.8,"v":-4},{"s":"M8-23","p":-77,"v":-2},{"s":"M8-23","p":-78.3,"v":-5},{"s":"M8-23","p":-79.5,"v":-3},{"s":"M8-23","p":-80.8,"v":-4},{"s":"M8-23","p":-82,"v":-2},{"s":"M8-23","p":-83.3,"v":-4},{"s":"M8-23","p":-84.5,"v":-1},{"s":"M8-23","p":-85.9,"v":0},{"s":"M8-23","p":-87,"v":-1},{"s":"M8-23","p":-87.9,"v":2},{"s":"M8-23","p":-89,"v":1},{"s":"M8-23","p":-89.9,"v":4},{"s":"M8-23","p":-91,"v":3},{"s":"M8-23","p":-91.9,"v":5},{"s":"M8-23","p":-93,"v":5},{"s":"M8-23","p":-93.9,"v":7},{"s":"M8-23","p":-95,"v":8},{"s":"M8-23","p":-95.9,"v":10},{"s":"M8-23","p":-96.9,"v":13},{"s":"M8-23","p":-97.9,"v":18},{"s":"M8-23","p":-99,"v":24},{"s":"M8-23","p":-100,"v":30},{"s":"M8-23","p":-100.5,"v":34},{"s":"M8-23","p":-101,"v":40},{"s":"M8-23","p":-101.2,"v":48},{"s":"M8-23","p":-101.7,"v":60},{"s":"M8-23","p":-102.2,"v":77},{"s":"M8-23","p":-102.7,"v":100},{"s":"M8-23","p":-103.2,"v":122},{"s":"M8-23","p":-103.7,"v":143},{"s":"M8-23","p":-104.2,"v":157},{"s":"M8-23","p":-104.7,"v":165},{"s":"M8-23","p":-105.2,"v":168},{"s":"M8-23","p":-105.7,"v":167},{"s":"M8-23","p":-106.2,"v":163},{"s":"M8-23","p":-106.7,"v":158},{"s":"M8-23","p":-107.2,"v":155},{"s":"M8-23","p":-107.7,"v":155},{"s":"M8-23","p":-108.2,"v":152},{"s":"M8-23","p":-108.7,"v":153},{"s":"M8-23","p":-109.2,"v":156},{"s":"M8-23","p":-109.7,"v":162},{"s":"M8-23","p":-110.2,"v":170},{"s":"M8-23","p":-110.7,"v":185},{"s":"M8-23","p":-111.2,"v":194},{"s":"M8-23","p":-111.7,"v":197},{"s":"M8-23","p":-112.2,"v":200},{"s":"M8-23","p":-112.7,"v":203},{"s":"M8-23","p":-113,"v":205},{"s":"M8-23","p":-113.5,"v":197},{"s":"M8-23","p":-114,"v":177},{"s":"M8-23","p":-114.5,"v":150},{"s":"M8-23","p":-115,"v":118},{"s":"M8-23","p":-115.5,"v":73},{"s":"M8-23","p":-116,"v":42},{"s":"M8-23","p":-116.5,"v":20},{"s":"M8-23","p":-117,"v":7},{"s":"M8-23","p":-117.7,"v":-2},{"s":"M8-23","p":-119,"v":-3},{"s":"M8-23","p":-120,"v":-5},{"s":"M8-23","p":-121,"v":-5},{"s":"M8-23","p":-122,"v":-7},{"s":"M8-23","p":-123,"v":-5},{"s":"M8-23","p":-124,"v":-8},{"s":"M8-23","p":-125,"v":-7},{"s":"M8-23","p":-126,"v":-9},{"s":"M8-23","p":-127,"v":-7},{"s":"M8-23","p":-128,"v":-10},{"s":"M8-23","p":-129,"v":-9},{"s":"M8-23","p":-130,"v":-11},{"s":"M8-23","p":-131,"v":-9},{"s":"M8-23","p":-132,"v":-11},{"s":"M8-23","p":-133,"v":-9},{"s":"M8-23","p":-134,"v":-10},{"s":"M8-23","p":-135,"v":-8},{"s":"M8-23","p":-136,"v":-9},{"s":"M8-23","p":-137,"v":-7},{"s":"M8-23","p":-138,"v":-5},{"s":"M8-23","p":-138.7,"v":-3},{"s":"M8-23","p":-139.3,"v":-6},
{"s":"M8-24","p":-70,"v":0},{"s":"M8-24","p":-71,"v":1},{"s":"M8-24","p":-72.3,"v":-2},{"s":"M8-24","p":-73.5,"v":-4},{"s":"M8-24","p":-74.8,"v":-7},{"s":"M8-24","p":-76,"v":-9},{"s":"M8-24","p":-76.8,"v":-12},{"s":"M8-24","p":-77.5,"v":-9},{"s":"M8-24","p":-78.3,"v":-8},{"s":"M8-24","p":-79.5,"v":-10},{"s":"M8-24","p":-80.8,"v":-9},{"s":"M8-24","p":-82,"v":-8},{"s":"M8-24","p":-83.3,"v":-8},{"s":"M8-24","p":-84.5,"v":-7},{"s":"M8-24","p":-85.9,"v":-7},{"s":"M8-24","p":-87,"v":-6},{"s":"M8-24","p":-88.4,"v":-7},{"s":"M8-24","p":-89.5,"v":-5},{"s":"M8-24","p":-90.9,"v":-5},{"s":"M8-24","p":-91.9,"v":0},{"s":"M8-24","p":-92.7,"v":-3},{"s":"M8-24","p":-93.4,"v":-4},{"s":"M8-24","p":-94.5,"v":-2},{"s":"M8-24","p":-95.9,"v":0},{"s":"M8-24","p":-96.7,"v":5},{"s":"M8-24","p":-97.4,"v":10},{"s":"M8-24","p":-98.2,"v":15},{"s":"M8-24","p":-99,"v":20},{"s":"M8-24","p":-100,"v":27},{"s":"M8-24","p":-100.5,"v":30},{"s":"M8-24","p":-101,"v":36},{"s":"M8-24","p":-101.5,"v":43},{"s":"M8-24","p":-102,"v":57},{"s":"M8-24","p":-102.5,"v":73},{"s":"M8-24","p":-103,"v":97},{"s":"M8-24","p":-103.5,"v":117},{"s":"M8-24","p":-104,"v":137},{"s":"M8-24","p":-104.5,"v":145},{"s":"M8-24","p":-105,"v":152},{"s":"M8-24","p":-105.5,"v":160},{"s":"M8-24","p":-106,"v":153},{"s":"M8-24","p":-106.5,"v":149},{"s":"M8-24","p":-107,"v":147},{"s":"M8-24","p":-107.5,"v":144},{"s":"M8-24","p":-108,"v":143},{"s":"M8-24","p":-108.5,"v":145},{"s":"M8-24","p":-109,"v":147},{"s":"M8-24","p":-109.5,"v":152},{"s":"M8-24","p":-110,"v":163},{"s":"M8-24","p":-110.5,"v":172},{"s":"M8-24","p":-111,"v":181},{"s":"M8-24","p":-111.5,"v":190},{"s":"M8-24","p":-112,"v":198},{"s":"M8-24","p":-112.5,"v":203},{"s":"M8-24","p":-112.8,"v":204},{"s":"M8-24","p":-113.3,"v":203},{"s":"M8-24","p":-113.8,"v":195},{"s":"M8-24","p":-114.3,"v":180},{"s":"M8-24","p":-114.8,"v":153},{"s":"M8-24","p":-115.3,"v":117},{"s":"M8-24","p":-115.8,"v":77},{"s":"M8-24","p":-116.3,"v":40},{"s":"M8-24","p":-116.8,"v":22},{"s":"M8-24","p":-117.3,"v":10},{"s":"M8-24","p":-118.1,"v":0},{"s":"M8-24","p":-119,"v":-3},{"s":"M8-24","p":-119.6,"v":-5},{"s":"M8-24","p":-120.5,"v":-7},{"s":"M8-24","p":-121.5,"v":-5},{"s":"M8-24","p":-122.5,"v":-8},{"s":"M8-24","p":-123.6,"v":-7},{"s":"M8-24","p":-124.5,"v":-9},{"s":"M8-24","p":-125.5,"v":-6},{"s":"M8-24","p":-126.5,"v":-8},{"s":"M8-24","p":-127.5,"v":-7},{"s":"M8-24","p":-128.5,"v":-9},{"s":"M8-24","p":-129.5,"v":-7},{"s":"M8-24","p":-130.5,"v":-8},{"s":"M8-24","p":-131.5,"v":-5},{"s":"M8-24","p":-132.5,"v":-8},{"s":"M8-24","p":-133.5,"v":-6},{"s":"M8-24","p":-134.5,"v":-7},{"s":"M8-24","p":-135.5,"v":-4},{"s":"M8-24","p":-136.5,"v":-5},{"s":"M8-24","p":-137.5,"v":-3},{"s":"M8-24","p":-138.2,"v":1},{"s":"M8-24","p":-139.2,"v":-3}
]},
"concat":[
{"width":556,"height":271,"layer":[
{"data":{"name":"spec"},"transform":[{"filter":"datum.s=='M5-21'"}],"mark":{"type":"line","color":"black","strokeWidth":1.6},"encoding":{"x":{"field":"p","type":"quantitative","scale":{"domain":[-70,-140],"nice":false,"zero":false},"axis":null},"y":{"field":"v","type":"quantitative","scale":{"domain":[-31.7,221.3],"nice":false,"zero":false},"axis":null}}},
{"data":{"name":"lab"},"transform":[{"filter":"datum.s=='M5-21'"}],"mark":{"type":"text","align":"left","baseline":"middle","fontSize":42},"encoding":{"x":{"datum":-70.9},"y":{"datum":39},"text":{"field":"s"}}},
{"data":{"name":"lab"},"transform":[{"filter":"datum.s=='M5-21'"}],"mark":{"type":"text","align":"left","baseline":"middle","fontSize":31},"encoding":{"x":{"datum":-121.4},"y":{"datum":114},"text":{"value":"SiO"}}},
{"data":{"name":"lab"},"transform":[{"filter":"datum.s=='M5-21'"}],"mark":{"type":"text","align":"left","baseline":"middle","fontSize":31,"dx":52.7,"dy":10},"encoding":{"x":{"datum":-121.4},"y":{"datum":114},"text":{"value":"2"}}},
{"data":{"name":"lab"},"transform":[{"filter":"datum.s=='M5-21'"}],"mark":{"type":"text","align":"left","baseline":"middle","fontSize":31,"dx":72.4},"encoding":{"x":{"datum":-121.4},"y":{"datum":114},"text":{"value":"/Al"}}},
{"data":{"name":"lab"},"transform":[{"filter":"datum.s=='M5-21'"}],"mark":{"type":"text","align":"left","baseline":"middle","fontSize":31,"dx":112.6,"dy":10},"encoding":{"x":{"datum":-121.4},"y":{"datum":114},"text":{"value":"2"}}},
{"data":{"name":"lab"},"transform":[{"filter":"datum.s=='M5-21'"}],"mark":{"type":"text","align":"left","baseline":"middle","fontSize":31,"dx":132.3},"encoding":{"x":{"datum":-121.4},"y":{"datum":114},"text":{"value":"O"}}},
{"data":{"name":"lab"},"transform":[{"filter":"datum.s=='M5-21'"}],"mark":{"type":"text","align":"left","baseline":"middle","fontSize":31,"dx":156.7,"dy":10},"encoding":{"x":{"datum":-121.4},"y":{"datum":114},"text":{"value":"3"}}},
{"data":{"name":"lab"},"transform":[{"filter":"datum.s=='M5-21'"}],"mark":{"type":"text","align":"center","baseline":"middle","fontSize":31},"encoding":{"x":{"datum":-132.6},"y":{"datum":62},"text":{"field":"r"}}}]},
{"width":556,"height":271,"layer":[
{"data":{"name":"spec"},"transform":[{"filter":"datum.s=='M7-23'"}],"mark":{"type":"line","color":"black","strokeWidth":1.6},"encoding":{"x":{"field":"p","type":"quantitative","scale":{"domain":[-70,-140],"nice":false,"zero":false},"axis":null},"y":{"field":"v","type":"quantitative","scale":{"domain":[1.9,254.9],"nice":false,"zero":false},"axis":null}}},
{"data":{"name":"lab"},"transform":[{"filter":"datum.s=='M7-23'"}],"mark":{"type":"text","align":"left","baseline":"middle","fontSize":42},"encoding":{"x":{"datum":-69.9},"y":{"datum":120},"text":{"field":"s"}}},
{"data":{"name":"lab"},"transform":[{"filter":"datum.s=='M7-23'"}],"mark":{"type":"text","align":"left","baseline":"middle","fontSize":31},"encoding":{"x":{"datum":-121.4},"y":{"datum":163},"text":{"value":"SiO"}}},
{"data":{"name":"lab"},"transform":[{"filter":"datum.s=='M7-23'"}],"mark":{"type":"text","align":"left","baseline":"middle","fontSize":31,"dx":52.7,"dy":10},"encoding":{"x":{"datum":-121.4},"y":{"datum":163},"text":{"value":"2"}}},
{"data":{"name":"lab"},"transform":[{"filter":"datum.s=='M7-23'"}],"mark":{"type":"text","align":"left","baseline":"middle","fontSize":31,"dx":72.4},"encoding":{"x":{"datum":-121.4},"y":{"datum":163},"text":{"value":"/Al"}}},
{"data":{"name":"lab"},"transform":[{"filter":"datum.s=='M7-23'"}],"mark":{"type":"text","align":"left","baseline":"middle","fontSize":31,"dx":112.6,"dy":10},"encoding":{"x":{"datum":-121.4},"y":{"datum":163},"text":{"value":"2"}}},
{"data":{"name":"lab"},"transform":[{"filter":"datum.s=='M7-23'"}],"mark":{"type":"text","align":"left","baseline":"middle","fontSize":31,"dx":132.3},"encoding":{"x":{"datum":-121.4},"y":{"datum":163},"text":{"value":"O"}}},
{"data":{"name":"lab"},"transform":[{"filter":"datum.s=='M7-23'"}],"mark":{"type":"text","align":"left","baseline":"middle","fontSize":31,"dx":156.7,"dy":10},"encoding":{"x":{"datum":-121.4},"y":{"datum":163},"text":{"value":"3"}}},
{"data":{"name":"lab"},"transform":[{"filter":"datum.s=='M7-23'"}],"mark":{"type":"text","align":"center","baseline":"middle","fontSize":31},"encoding":{"x":{"datum":-132.2},"y":{"datum":116},"text":{"field":"r"}}}]},
{"width":556,"height":271,"layer":[
{"data":{"name":"spec"},"transform":[{"filter":"datum.s=='M5-22'"}],"mark":{"type":"line","color":"black","strokeWidth":1.6},"encoding":{"x":{"field":"p","type":"quantitative","scale":{"domain":[-70,-140],"nice":false,"zero":false},"axis":null},"y":{"field":"v","type":"quantitative","scale":{"domain":[-24.3,228.8],"nice":false,"zero":false},"axis":null}}},
{"data":{"name":"lab"},"transform":[{"filter":"datum.s=='M5-22'"}],"mark":{"type":"text","align":"left","baseline":"middle","fontSize":42},"encoding":{"x":{"datum":-70.9},"y":{"datum":57},"text":{"field":"s"}}},
{"data":{"name":"lab"},"transform":[{"filter":"datum.s=='M5-22'"}],"mark":{"type":"text","align":"left","baseline":"middle","fontSize":31},"encoding":{"x":{"datum":-121.4},"y":{"datum":116},"text":{"value":"SiO"}}},
{"data":{"name":"lab"},"transform":[{"filter":"datum.s=='M5-22'"}],"mark":{"type":"text","align":"left","baseline":"middle","fontSize":31,"dx":52.7,"dy":10},"encoding":{"x":{"datum":-121.4},"y":{"datum":116},"text":{"value":"2"}}},
{"data":{"name":"lab"},"transform":[{"filter":"datum.s=='M5-22'"}],"mark":{"type":"text","align":"left","baseline":"middle","fontSize":31,"dx":72.4},"encoding":{"x":{"datum":-121.4},"y":{"datum":116},"text":{"value":"/Al"}}},
{"data":{"name":"lab"},"transform":[{"filter":"datum.s=='M5-22'"}],"mark":{"type":"text","align":"left","baseline":"middle","fontSize":31,"dx":112.6,"dy":10},"encoding":{"x":{"datum":-121.4},"y":{"datum":116},"text":{"value":"2"}}},
{"data":{"name":"lab"},"transform":[{"filter":"datum.s=='M5-22'"}],"mark":{"type":"text","align":"left","baseline":"middle","fontSize":31,"dx":132.3},"encoding":{"x":{"datum":-121.4},"y":{"datum":116},"text":{"value":"O"}}},
{"data":{"name":"lab"},"transform":[{"filter":"datum.s=='M5-22'"}],"mark":{"type":"text","align":"left","baseline":"middle","fontSize":31,"dx":156.7,"dy":10},"encoding":{"x":{"datum":-121.4},"y":{"datum":116},"text":{"value":"3"}}},
{"data":{"name":"lab"},"transform":[{"filter":"datum.s=='M5-22'"}],"mark":{"type":"text","align":"center","baseline":"middle","fontSize":31},"encoding":{"x":{"datum":-132.6},"y":{"datum":67},"text":{"field":"r"}}}]},
{"width":556,"height":271,"layer":[
{"data":{"name":"spec"},"transform":[{"filter":"datum.s=='M7-24'"}],"mark":{"type":"line","color":"black","strokeWidth":1.6},"encoding":{"x":{"field":"p","type":"quantitative","scale":{"domain":[-70,-140],"nice":false,"zero":false},"axis":null},"y":{"field":"v","type":"quantitative","scale":{"domain":[-13.1,240.0],"nice":false,"zero":false},"axis":null}}},
{"data":{"name":"lab"},"transform":[{"filter":"datum.s=='M7-24'"}],"mark":{"type":"text","align":"left","baseline":"middle","fontSize":42},"encoding":{"x":{"datum":-69.9},"y":{"datum":90},"text":{"field":"s"}}},
{"data":{"name":"lab"},"transform":[{"filter":"datum.s=='M7-24'"}],"mark":{"type":"text","align":"left","baseline":"middle","fontSize":31},"encoding":{"x":{"datum":-121.4},"y":{"datum":102},"text":{"value":"SiO"}}},
{"data":{"name":"lab"},"transform":[{"filter":"datum.s=='M7-24'"}],"mark":{"type":"text","align":"left","baseline":"middle","fontSize":31,"dx":52.7,"dy":10},"encoding":{"x":{"datum":-121.4},"y":{"datum":102},"text":{"value":"2"}}},
{"data":{"name":"lab"},"transform":[{"filter":"datum.s=='M7-24'"}],"mark":{"type":"text","align":"left","baseline":"middle","fontSize":31,"dx":72.4},"encoding":{"x":{"datum":-121.4},"y":{"datum":102},"text":{"value":"/Al"}}},
{"data":{"name":"lab"},"transform":[{"filter":"datum.s=='M7-24'"}],"mark":{"type":"text","align":"left","baseline":"middle","fontSize":31,"dx":112.6,"dy":10},"encoding":{"x":{"datum":-121.4},"y":{"datum":102},"text":{"value":"2"}}},
{"data":{"name":"lab"},"transform":[{"filter":"datum.s=='M7-24'"}],"mark":{"type":"text","align":"left","baseline":"middle","fontSize":31,"dx":132.3},"encoding":{"x":{"datum":-121.4},"y":{"datum":102},"text":{"value":"O"}}},
{"data":{"name":"lab"},"transform":[{"filter":"datum.s=='M7-24'"}],"mark":{"type":"text","align":"left","baseline":"middle","fontSize":31,"dx":156.7,"dy":10},"encoding":{"x":{"datum":-121.4},"y":{"datum":102},"text":{"value":"3"}}},
{"data":{"name":"lab"},"transform":[{"filter":"datum.s=='M7-24'"}],"mark":{"type":"text","align":"center","baseline":"middle","fontSize":31},"encoding":{"x":{"datum":-132.2},"y":{"datum":52},"text":{"field":"r"}}}]},
{"width":556,"height":271,"layer":[
{"data":{"name":"spec"},"transform":[{"filter":"datum.s=='M5-23'"}],"mark":{"type":"line","color":"black","strokeWidth":1.6},"encoding":{"x":{"field":"p","type":"quantitative","scale":{"domain":[-70,-140],"nice":false,"zero":false},"axis":null},"y":{"field":"v","type":"quantitative","scale":{"domain":[-23.3,229.7],"nice":false,"zero":false},"axis":null}}},
{"data":{"name":"lab"},"transform":[{"filter":"datum.s=='M5-23'"}],"mark":{"type":"text","align":"left","baseline":"middle","fontSize":42},"encoding":{"x":{"datum":-70.9},"y":{"datum":80},"text":{"field":"s"}}},
{"data":{"name":"lab"},"transform":[{"filter":"datum.s=='M5-23'"}],"mark":{"type":"text","align":"left","baseline":"middle","fontSize":31},"encoding":{"x":{"datum":-121.4},"y":{"datum":120},"text":{"value":"SiO"}}},
{"data":{"name":"lab"},"transform":[{"filter":"datum.s=='M5-23'"}],"mark":{"type":"text","align":"left","baseline":"middle","fontSize":31,"dx":52.7,"dy":10},"encoding":{"x":{"datum":-121.4},"y":{"datum":120},"text":{"value":"2"}}},
{"data":{"name":"lab"},"transform":[{"filter":"datum.s=='M5-23'"}],"mark":{"type":"text","align":"left","baseline":"middle","fontSize":31,"dx":72.4},"encoding":{"x":{"datum":-121.4},"y":{"datum":120},"text":{"value":"/Al"}}},
{"data":{"name":"lab"},"transform":[{"filter":"datum.s=='M5-23'"}],"mark":{"type":"text","align":"left","baseline":"middle","fontSize":31,"dx":112.6,"dy":10},"encoding":{"x":{"datum":-121.4},"y":{"datum":120},"text":{"value":"2"}}},
{"data":{"name":"lab"},"transform":[{"filter":"datum.s=='M5-23'"}],"mark":{"type":"text","align":"left","baseline":"middle","fontSize":31,"dx":132.3},"encoding":{"x":{"datum":-121.4},"y":{"datum":120},"text":{"value":"O"}}},
{"data":{"name":"lab"},"transform":[{"filter":"datum.s=='M5-23'"}],"mark":{"type":"text","align":"left","baseline":"middle","fontSize":31,"dx":156.7,"dy":10},"encoding":{"x":{"datum":-121.4},"y":{"datum":120},"text":{"value":"3"}}},
{"data":{"name":"lab"},"transform":[{"filter":"datum.s=='M5-23'"}],"mark":{"type":"text","align":"center","baseline":"middle","fontSize":31},"encoding":{"x":{"datum":-132.6},"y":{"datum":74},"text":{"field":"r"}}}]},
{"width":556,"height":271,"layer":[
{"data":{"name":"spec"},"transform":[{"filter":"datum.s=='M8-21'"}],"mark":{"type":"line","color":"black","strokeWidth":1.6},"encoding":{"x":{"field":"p","type":"quantitative","scale":{"domain":[-70,-140],"nice":false,"zero":false},"axis":null},"y":{"field":"v","type":"quantitative","scale":{"domain":[-5.6,247.4],"nice":false,"zero":false},"axis":null}}},
{"data":{"name":"lab"},"transform":[{"filter":"datum.s=='M8-21'"}],"mark":{"type":"text","align":"left","baseline":"middle","fontSize":42},"encoding":{"x":{"datum":-69.9},"y":{"datum":87},"text":{"field":"s"}}},
{"data":{"name":"lab"},"transform":[{"filter":"datum.s=='M8-21'"}],"mark":{"type":"text","align":"left","baseline":"middle","fontSize":31},"encoding":{"x":{"datum":-121.4},"y":{"datum":108},"text":{"value":"SiO"}}},
{"data":{"name":"lab"},"transform":[{"filter":"datum.s=='M8-21'"}],"mark":{"type":"text","align":"left","baseline":"middle","fontSize":31,"dx":52.7,"dy":10},"encoding":{"x":{"datum":-121.4},"y":{"datum":108},"text":{"value":"2"}}},
{"data":{"name":"lab"},"transform":[{"filter":"datum.s=='M8-21'"}],"mark":{"type":"text","align":"left","baseline":"middle","fontSize":31,"dx":72.4},"encoding":{"x":{"datum":-121.4},"y":{"datum":108},"text":{"value":"/Al"}}},
{"data":{"name":"lab"},"transform":[{"filter":"datum.s=='M8-21'"}],"mark":{"type":"text","align":"left","baseline":"middle","fontSize":31,"dx":112.6,"dy":10},"encoding":{"x":{"datum":-121.4},"y":{"datum":108},"text":{"value":"2"}}},
{"data":{"name":"lab"},"transform":[{"filter":"datum.s=='M8-21'"}],"mark":{"type":"text","align":"left","baseline":"middle","fontSize":31,"dx":132.3},"encoding":{"x":{"datum":-121.4},"y":{"datum":108},"text":{"value":"O"}}},
{"data":{"name":"lab"},"transform":[{"filter":"datum.s=='M8-21'"}],"mark":{"type":"text","align":"left","baseline":"middle","fontSize":31,"dx":156.7,"dy":10},"encoding":{"x":{"datum":-121.4},"y":{"datum":108},"text":{"value":"3"}}},
{"data":{"name":"lab"},"transform":[{"filter":"datum.s=='M8-21'"}],"mark":{"type":"text","align":"center","baseline":"middle","fontSize":31},"encoding":{"x":{"datum":-132.2},"y":{"datum":64},"text":{"field":"r"}}}]},
{"width":556,"height":271,"layer":[
{"data":{"name":"spec"},"transform":[{"filter":"datum.s=='M5-24'"}],"mark":{"type":"line","color":"black","strokeWidth":1.6},"encoding":{"x":{"field":"p","type":"quantitative","scale":{"domain":[-70,-140],"nice":false,"zero":false},"axis":null},"y":{"field":"v","type":"quantitative","scale":{"domain":[-11.2,241.8],"nice":false,"zero":false},"axis":null}}},
{"data":{"name":"lab"},"transform":[{"filter":"datum.s=='M5-24'"}],"mark":{"type":"text","align":"left","baseline":"middle","fontSize":42},"encoding":{"x":{"datum":-70.9},"y":{"datum":91},"text":{"field":"s"}}},
{"data":{"name":"lab"},"transform":[{"filter":"datum.s=='M5-24'"}],"mark":{"type":"text","align":"left","baseline":"middle","fontSize":31},"encoding":{"x":{"datum":-121.4},"y":{"datum":116},"text":{"value":"SiO"}}},
{"data":{"name":"lab"},"transform":[{"filter":"datum.s=='M5-24'"}],"mark":{"type":"text","align":"left","baseline":"middle","fontSize":31,"dx":52.7,"dy":10},"encoding":{"x":{"datum":-121.4},"y":{"datum":116},"text":{"value":"2"}}},
{"data":{"name":"lab"},"transform":[{"filter":"datum.s=='M5-24'"}],"mark":{"type":"text","align":"left","baseline":"middle","fontSize":31,"dx":72.4},"encoding":{"x":{"datum":-121.4},"y":{"datum":116},"text":{"value":"/Al"}}},
{"data":{"name":"lab"},"transform":[{"filter":"datum.s=='M5-24'"}],"mark":{"type":"text","align":"left","baseline":"middle","fontSize":31,"dx":112.6,"dy":10},"encoding":{"x":{"datum":-121.4},"y":{"datum":116},"text":{"value":"2"}}},
{"data":{"name":"lab"},"transform":[{"filter":"datum.s=='M5-24'"}],"mark":{"type":"text","align":"left","baseline":"middle","fontSize":31,"dx":132.3},"encoding":{"x":{"datum":-121.4},"y":{"datum":116},"text":{"value":"O"}}},
{"data":{"name":"lab"},"transform":[{"filter":"datum.s=='M5-24'"}],"mark":{"type":"text","align":"left","baseline":"middle","fontSize":31,"dx":156.7,"dy":10},"encoding":{"x":{"datum":-121.4},"y":{"datum":116},"text":{"value":"3"}}},
{"data":{"name":"lab"},"transform":[{"filter":"datum.s=='M5-24'"}],"mark":{"type":"text","align":"center","baseline":"middle","fontSize":31},"encoding":{"x":{"datum":-132.6},"y":{"datum":69},"text":{"field":"r"}}}]},
{"width":556,"height":271,"layer":[
{"data":{"name":"spec"},"transform":[{"filter":"datum.s=='M8-22'"}],"mark":{"type":"line","color":"black","strokeWidth":1.6},"encoding":{"x":{"field":"p","type":"quantitative","scale":{"domain":[-70,-140],"nice":false,"zero":false},"axis":null},"y":{"field":"v","type":"quantitative","scale":{"domain":[-1.9,251.2],"nice":false,"zero":false},"axis":null}}},
{"data":{"name":"lab"},"transform":[{"filter":"datum.s=='M8-22'"}],"mark":{"type":"text","align":"left","baseline":"middle","fontSize":42},"encoding":{"x":{"datum":-69.9},"y":{"datum":75},"text":{"field":"s"}}},
{"data":{"name":"lab"},"transform":[{"filter":"datum.s=='M8-22'"}],"mark":{"type":"text","align":"left","baseline":"middle","fontSize":31},"encoding":{"x":{"datum":-121.4},"y":{"datum":95},"text":{"value":"SiO"}}},
{"data":{"name":"lab"},"transform":[{"filter":"datum.s=='M8-22'"}],"mark":{"type":"text","align":"left","baseline":"middle","fontSize":31,"dx":52.7,"dy":10},"encoding":{"x":{"datum":-121.4},"y":{"datum":95},"text":{"value":"2"}}},
{"data":{"name":"lab"},"transform":[{"filter":"datum.s=='M8-22'"}],"mark":{"type":"text","align":"left","baseline":"middle","fontSize":31,"dx":72.4},"encoding":{"x":{"datum":-121.4},"y":{"datum":95},"text":{"value":"/Al"}}},
{"data":{"name":"lab"},"transform":[{"filter":"datum.s=='M8-22'"}],"mark":{"type":"text","align":"left","baseline":"middle","fontSize":31,"dx":112.6,"dy":10},"encoding":{"x":{"datum":-121.4},"y":{"datum":95},"text":{"value":"2"}}},
{"data":{"name":"lab"},"transform":[{"filter":"datum.s=='M8-22'"}],"mark":{"type":"text","align":"left","baseline":"middle","fontSize":31,"dx":132.3},"encoding":{"x":{"datum":-121.4},"y":{"datum":95},"text":{"value":"O"}}},
{"data":{"name":"lab"},"transform":[{"filter":"datum.s=='M8-22'"}],"mark":{"type":"text","align":"left","baseline":"middle","fontSize":31,"dx":156.7,"dy":10},"encoding":{"x":{"datum":-121.4},"y":{"datum":95},"text":{"value":"3"}}},
{"data":{"name":"lab"},"transform":[{"filter":"datum.s=='M8-22'"}],"mark":{"type":"text","align":"center","baseline":"middle","fontSize":31},"encoding":{"x":{"datum":-132.2},"y":{"datum":47},"text":{"field":"r"}}}]},
{"width":556,"height":271,"layer":[
{"data":{"name":"spec"},"transform":[{"filter":"datum.s=='M7-21'"}],"mark":{"type":"line","color":"black","strokeWidth":1.6},"encoding":{"x":{"field":"p","type":"quantitative","scale":{"domain":[-70,-140],"nice":false,"zero":false},"axis":null},"y":{"field":"v","type":"quantitative","scale":{"domain":[-10.8,233.1],"nice":false,"zero":false},"axis":null}}},
{"data":{"name":"lab"},"transform":[{"filter":"datum.s=='M7-21'"}],"mark":{"type":"text","align":"left","baseline":"middle","fontSize":42},"encoding":{"x":{"datum":-70.9},"y":{"datum":90},"text":{"field":"s"}}},
{"data":{"name":"lab"},"transform":[{"filter":"datum.s=='M7-21'"}],"mark":{"type":"text","align":"left","baseline":"middle","fontSize":31},"encoding":{"x":{"datum":-121.4},"y":{"datum":102},"text":{"value":"SiO"}}},
{"data":{"name":"lab"},"transform":[{"filter":"datum.s=='M7-21'"}],"mark":{"type":"text","align":"left","baseline":"middle","fontSize":31,"dx":52.7,"dy":10},"encoding":{"x":{"datum":-121.4},"y":{"datum":102},"text":{"value":"2"}}},
{"data":{"name":"lab"},"transform":[{"filter":"datum.s=='M7-21'"}],"mark":{"type":"text","align":"left","baseline":"middle","fontSize":31,"dx":72.4},"encoding":{"x":{"datum":-121.4},"y":{"datum":102},"text":{"value":"/Al"}}},
{"data":{"name":"lab"},"transform":[{"filter":"datum.s=='M7-21'"}],"mark":{"type":"text","align":"left","baseline":"middle","fontSize":31,"dx":112.6,"dy":10},"encoding":{"x":{"datum":-121.4},"y":{"datum":102},"text":{"value":"2"}}},
{"data":{"name":"lab"},"transform":[{"filter":"datum.s=='M7-21'"}],"mark":{"type":"text","align":"left","baseline":"middle","fontSize":31,"dx":132.3},"encoding":{"x":{"datum":-121.4},"y":{"datum":102},"text":{"value":"O"}}},
{"data":{"name":"lab"},"transform":[{"filter":"datum.s=='M7-21'"}],"mark":{"type":"text","align":"left","baseline":"middle","fontSize":31,"dx":156.7,"dy":10},"encoding":{"x":{"datum":-121.4},"y":{"datum":102},"text":{"value":"3"}}},
{"data":{"name":"lab"},"transform":[{"filter":"datum.s=='M7-21'"}],"mark":{"type":"text","align":"center","baseline":"middle","fontSize":31},"encoding":{"x":{"datum":-132.6},"y":{"datum":57},"text":{"field":"r"}}}]},
{"width":556,"height":271,"layer":[
{"data":{"name":"spec"},"transform":[{"filter":"datum.s=='M8-23'"}],"mark":{"type":"line","color":"black","strokeWidth":1.6},"encoding":{"x":{"field":"p","type":"quantitative","scale":{"domain":[-70,-140],"nice":false,"zero":false},"axis":null},"y":{"field":"v","type":"quantitative","scale":{"domain":[-19.8,224.1],"nice":false,"zero":false},"axis":null}}},
{"data":{"name":"lab"},"transform":[{"filter":"datum.s=='M8-23'"}],"mark":{"type":"text","align":"left","baseline":"middle","fontSize":42},"encoding":{"x":{"datum":-69.9},"y":{"datum":38},"text":{"field":"s"}}},
{"data":{"name":"lab"},"transform":[{"filter":"datum.s=='M8-23'"}],"mark":{"type":"text","align":"left","baseline":"middle","fontSize":31},"encoding":{"x":{"datum":-121.4},"y":{"datum":70},"text":{"value":"SiO"}}},
{"data":{"name":"lab"},"transform":[{"filter":"datum.s=='M8-23'"}],"mark":{"type":"text","align":"left","baseline":"middle","fontSize":31,"dx":52.7,"dy":10},"encoding":{"x":{"datum":-121.4},"y":{"datum":70},"text":{"value":"2"}}},
{"data":{"name":"lab"},"transform":[{"filter":"datum.s=='M8-23'"}],"mark":{"type":"text","align":"left","baseline":"middle","fontSize":31,"dx":72.4},"encoding":{"x":{"datum":-121.4},"y":{"datum":70},"text":{"value":"/Al"}}},
{"data":{"name":"lab"},"transform":[{"filter":"datum.s=='M8-23'"}],"mark":{"type":"text","align":"left","baseline":"middle","fontSize":31,"dx":112.6,"dy":10},"encoding":{"x":{"datum":-121.4},"y":{"datum":70},"text":{"value":"2"}}},
{"data":{"name":"lab"},"transform":[{"filter":"datum.s=='M8-23'"}],"mark":{"type":"text","align":"left","baseline":"middle","fontSize":31,"dx":132.3},"encoding":{"x":{"datum":-121.4},"y":{"datum":70},"text":{"value":"O"}}},
{"data":{"name":"lab"},"transform":[{"filter":"datum.s=='M8-23'"}],"mark":{"type":"text","align":"left","baseline":"middle","fontSize":31,"dx":156.7,"dy":10},"encoding":{"x":{"datum":-121.4},"y":{"datum":70},"text":{"value":"3"}}},
{"data":{"name":"lab"},"transform":[{"filter":"datum.s=='M8-23'"}],"mark":{"type":"text","align":"center","baseline":"middle","fontSize":31},"encoding":{"x":{"datum":-132.2},"y":{"datum":23},"text":{"field":"r"}}}]},
{"width":556,"height":271,"layer":[
{"data":{"name":"spec"},"transform":[{"filter":"datum.s=='M7-22'"}],"mark":{"type":"line","color":"black","strokeWidth":1.6},"encoding":{"x":{"field":"p","type":"quantitative","scale":{"domain":[-70,-140],"nice":false,"zero":false},"axis":{"values":[-70,-80,-90,-100,-110,-120,-130,-140],"labelExpr":"datum.value % 20 == 0 ? '' + datum.value : ''","tickSize":{"condition":{"test":"datum.value % 20 == 0 || datum.value == -70","value":-24},"value":-12},"labelPadding":49,"offset":50,"grid":false,"domainColor":"black","domainWidth":2,"tickColor":"black","tickWidth":2,"labelColor":"black","labelFont":"Liberation Sans","labelFontSize":27,"labelFlush":false,"labelOverlap":false,"title":"ppm from TMS","titleFont":"Liberation Sans","titleFontSize":30,"titleFontWeight":"normal","titleColor":"black","titleX":258,"titleY":98,"titleAlign":"center","titleBaseline":"middle"}},"y":{"field":"v","type":"quantitative","scale":{"domain":[-18.9,225.0],"nice":false,"zero":false},"axis":null}}},
{"data":{"name":"lab"},"transform":[{"filter":"datum.s=='M7-22'"}],"mark":{"type":"text","align":"left","baseline":"middle","fontSize":42},"encoding":{"x":{"datum":-70.9},"y":{"datum":69},"text":{"field":"s"}}},
{"data":{"name":"lab"},"transform":[{"filter":"datum.s=='M7-22'"}],"mark":{"type":"text","align":"left","baseline":"middle","fontSize":31},"encoding":{"x":{"datum":-121.4},"y":{"datum":98},"text":{"value":"SiO"}}},
{"data":{"name":"lab"},"transform":[{"filter":"datum.s=='M7-22'"}],"mark":{"type":"text","align":"left","baseline":"middle","fontSize":31,"dx":52.7,"dy":10},"encoding":{"x":{"datum":-121.4},"y":{"datum":98},"text":{"value":"2"}}},
{"data":{"name":"lab"},"transform":[{"filter":"datum.s=='M7-22'"}],"mark":{"type":"text","align":"left","baseline":"middle","fontSize":31,"dx":72.4},"encoding":{"x":{"datum":-121.4},"y":{"datum":98},"text":{"value":"/Al"}}},
{"data":{"name":"lab"},"transform":[{"filter":"datum.s=='M7-22'"}],"mark":{"type":"text","align":"left","baseline":"middle","fontSize":31,"dx":112.6,"dy":10},"encoding":{"x":{"datum":-121.4},"y":{"datum":98},"text":{"value":"2"}}},
{"data":{"name":"lab"},"transform":[{"filter":"datum.s=='M7-22'"}],"mark":{"type":"text","align":"left","baseline":"middle","fontSize":31,"dx":132.3},"encoding":{"x":{"datum":-121.4},"y":{"datum":98},"text":{"value":"O"}}},
{"data":{"name":"lab"},"transform":[{"filter":"datum.s=='M7-22'"}],"mark":{"type":"text","align":"left","baseline":"middle","fontSize":31,"dx":156.7,"dy":10},"encoding":{"x":{"datum":-121.4},"y":{"datum":98},"text":{"value":"3"}}},
{"data":{"name":"lab"},"transform":[{"filter":"datum.s=='M7-22'"}],"mark":{"type":"text","align":"center","baseline":"middle","fontSize":31},"encoding":{"x":{"datum":-132.6},"y":{"datum":57},"text":{"field":"r"}}},
{"data":{"name":"iso"},"mark":{"type":"text","align":"left","baseline":"middle","fontSize":30,"font":"Liberation Sans"},"encoding":{"x":{"datum":-124.3},"y":{"datum":-148.5},"text":{"field":"a"}}},
{"data":{"name":"iso"},"mark":{"type":"text","align":"left","baseline":"middle","fontSize":30,"font":"Liberation Sans"},"encoding":{"x":{"datum":-128.4},"y":{"datum":-165.6},"text":{"field":"b"}}}]},
{"width":556,"height":271,"layer":[
{"data":{"name":"spec"},"transform":[{"filter":"datum.s=='M8-24'"}],"mark":{"type":"line","color":"black","strokeWidth":1.6},"encoding":{"x":{"field":"p","type":"quantitative","scale":{"domain":[-70,-140],"nice":false,"zero":false},"axis":{"values":[-70,-80,-90,-100,-110,-120,-130,-140],"labelExpr":"datum.value % 20 == 0 ? '' + datum.value : ''","tickSize":{"condition":{"test":"datum.value % 20 == 0 || datum.value == -70","value":-24},"value":-12},"labelPadding":49,"offset":50,"grid":false,"domainColor":"black","domainWidth":2,"tickColor":"black","tickWidth":2,"labelColor":"black","labelFont":"Liberation Sans","labelFontSize":27,"labelFlush":false,"labelOverlap":false,"title":"ppm from TMS","titleFont":"Liberation Sans","titleFontSize":30,"titleFontWeight":"normal","titleColor":"black","titleX":258,"titleY":98,"titleAlign":"center","titleBaseline":"middle"}},"y":{"field":"v","type":"quantitative","scale":{"domain":[-24.3,219.6],"nice":false,"zero":false},"axis":null}}},
{"data":{"name":"lab"},"transform":[{"filter":"datum.s=='M8-24'"}],"mark":{"type":"text","align":"left","baseline":"middle","fontSize":42},"encoding":{"x":{"datum":-69.9},"y":{"datum":46},"text":{"field":"s"}}},
{"data":{"name":"lab"},"transform":[{"filter":"datum.s=='M8-24'"}],"mark":{"type":"text","align":"left","baseline":"middle","fontSize":31},"encoding":{"x":{"datum":-121.4},"y":{"datum":91},"text":{"value":"SiO"}}},
{"data":{"name":"lab"},"transform":[{"filter":"datum.s=='M8-24'"}],"mark":{"type":"text","align":"left","baseline":"middle","fontSize":31,"dx":52.7,"dy":10},"encoding":{"x":{"datum":-121.4},"y":{"datum":91},"text":{"value":"2"}}},
{"data":{"name":"lab"},"transform":[{"filter":"datum.s=='M8-24'"}],"mark":{"type":"text","align":"left","baseline":"middle","fontSize":31,"dx":72.4},"encoding":{"x":{"datum":-121.4},"y":{"datum":91},"text":{"value":"/Al"}}},
{"data":{"name":"lab"},"transform":[{"filter":"datum.s=='M8-24'"}],"mark":{"type":"text","align":"left","baseline":"middle","fontSize":31,"dx":112.6,"dy":10},"encoding":{"x":{"datum":-121.4},"y":{"datum":91},"text":{"value":"2"}}},
{"data":{"name":"lab"},"transform":[{"filter":"datum.s=='M8-24'"}],"mark":{"type":"text","align":"left","baseline":"middle","fontSize":31,"dx":132.3},"encoding":{"x":{"datum":-121.4},"y":{"datum":91},"text":{"value":"O"}}},
{"data":{"name":"lab"},"transform":[{"filter":"datum.s=='M8-24'"}],"mark":{"type":"text","align":"left","baseline":"middle","fontSize":31,"dx":156.7,"dy":10},"encoding":{"x":{"datum":-121.4},"y":{"datum":91},"text":{"value":"3"}}},
{"data":{"name":"lab"},"transform":[{"filter":"datum.s=='M8-24'"}],"mark":{"type":"text","align":"center","baseline":"middle","fontSize":31},"encoding":{"x":{"datum":-132.2},"y":{"datum":44},"text":{"field":"r"}}},
{"data":{"name":"iso"},"mark":{"type":"text","align":"left","baseline":"middle","fontSize":30,"font":"Liberation Sans"},"encoding":{"x":{"datum":-124.9},"y":{"datum":-153.9},"text":{"field":"a"}}},
{"data":{"name":"iso"},"mark":{"type":"text","align":"left","baseline":"middle","fontSize":30,"font":"Liberation Sans"},"encoding":{"x":{"datum":-129},"y":{"datum":-171},"text":{"field":"b"}}}]}
],
"resolve":{"scale":{"x":"independent","y":"independent"}}
}
